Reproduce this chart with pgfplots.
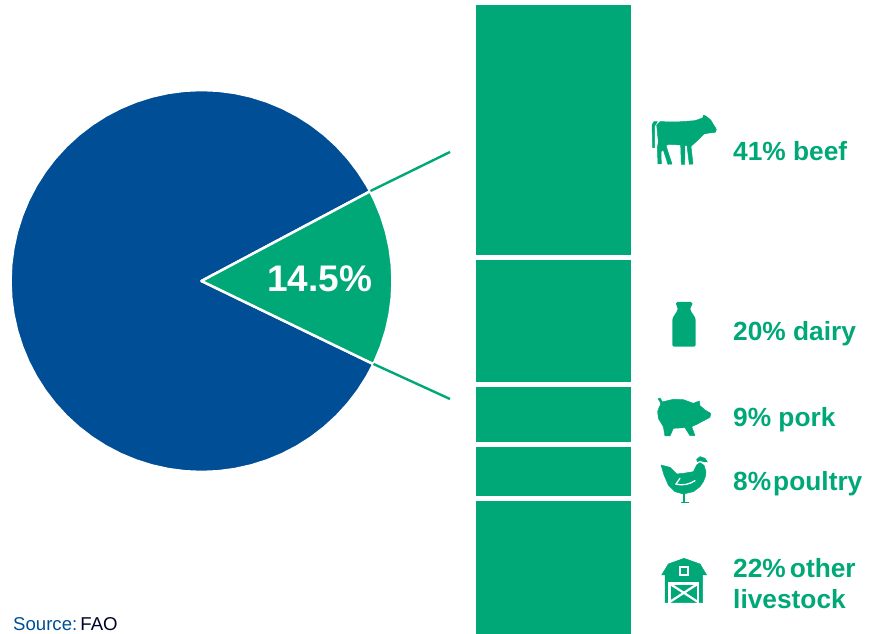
\documentclass[border=0pt]{standalone}
\usepackage{fontspec}
\setmainfont{Liberation Sans}
\usepackage{pgfplots}
\pgfplotsset{compat=1.18}
\definecolor{fgreen}{RGB}{0,168,120}
\definecolor{fblue}{RGB}{0,78,150}
% one unit = one pixel of the reference
\tikzset{icon/.style 2 args={shift={(#1pt,634pt-#2pt)},x=0.3333pt,y=-0.3333pt},
  ink/.style={fill=fgreen,draw=fgreen,line width=0.5pt,line join=round}}
\newcommand{\lab}[3]{\node[anchor=base west,inner sep=0pt,text=fgreen,font=\fontsize{26.3}{30}\selectfont\bfseries] at (#1pt,634pt-#2pt) {#3};}
\begin{document}
\begin{tikzpicture}
\path[use as bounding box] (0,0) rectangle (873pt,634pt);
% pie, centre at the origin, angle/radius
\begin{axis}[x=1pt,y=1pt,xmin=-201.5,xmax=671.5,ymin=-353,ymax=281,hide axis,clip=false]
\addplot[data cs=polar,fill=fblue,draw=white,line width=2.5pt,line join=round] coordinates {
(0,0) (28,191) (30,191) (35,191) (40,191) (45,191) (50,191) (55,191) (60,191) (65,191) (70,191)
(75,191) (80,191) (85,191) (90,191) (95,191) (100,191) (105,191) (110,191) (115,191) (120,191)
(125,191) (130,191) (135,191) (140,191) (145,191) (150,191) (155,191) (160,191) (165,191) (170,191)
(175,191) (180,191) (185,191) (190,191) (195,191) (200,191) (205,191) (210,191) (215,191) (220,191)
(225,191) (230,191) (235,191) (240,191) (245,191) (250,191) (255,191) (260,191) (265,191) (270,191)
(275,191) (280,191) (285,191) (290,191) (295,191) (300,191) (305,191) (310,191) (315,191) (320,191)
(325,191) (330,191) (334.2,191)} -- cycle;
\addplot[data cs=polar,fill=fgreen,draw=white,line width=2.5pt,line join=round] coordinates {
(0,0) (-25.8,191) (-25,191) (-20,191) (-15,191) (-10,191) (-5,191) (0,191) (5,191) (10,191)
(15,191) (20,191) (25,191) (28,191)} -- cycle;
\addplot[fgreen,line width=2.4pt] coordinates {(169,90) (248.5,129)};
\addplot[fgreen,line width=2.4pt] coordinates {(172,-83) (248.5,-118)};
\end{axis}
% stacked bar, share of its height; the white outline makes the gaps
\begin{axis}[at={(0pt,-2.5pt)},x=1pt,y=6.34pt,xmin=0,xmax=873,ymin=0,ymax=100,hide axis,
  ybar stacked,bar width=160pt]
\addplot[fill=fgreen,draw=white,line width=5pt] coordinates {(553.5,21.8)}; % other livestock
\addplot[fill=fgreen,draw=white,line width=5pt] coordinates {(553.5,8.5)};  % poultry
\addplot[fill=fgreen,draw=white,line width=5pt] coordinates {(553.5,9.5)};  % pork
\addplot[fill=fgreen,draw=white,line width=5pt] coordinates {(553.5,20.0)}; % dairy
\addplot[fill=fgreen,draw=white,line width=5pt] coordinates {(553.5,40.2)}; % beef
\end{axis}
% texts
\node[anchor=base west,inner sep=0pt,text=white,font=\fontsize{37}{40}\selectfont\bfseries] at (267pt,634pt-292pt) {14.5\%};
\lab{733}{161}{41\% beef}
\lab{733}{341}{20\% dairy}
\lab{733}{427}{9\% pork}
\lab{733}{491}{8\%\hspace{-0.2em} poultry}
\lab{733}{578}{22\%\hspace{-0.12em} other}
\lab{733}{609}{livestock}
\node[anchor=base west,inner sep=0pt,font=\fontsize{18.6}{20}\selectfont] at (13pt,634pt-631pt) {\textcolor{fblue}{Source:}\hspace{-0.2em} \textcolor{black!85!blue}{FAO}};
% icons
\begin{scope}[icon={640}{100}]
\path[ink] (38,143) -- (36,75) -- (42,65) -- (52,65) -- (44,78) -- (44,143) -- cycle;
\path[ink] (50,75) -- (60,65) -- (110,66) -- (165,62) -- (188,54) -- (191,45) -- (200,50) -- (212,60) -- (229,88) -- (226,97) -- (207,99) -- (192,102) -- (172,122) -- (155,137) -- (153,140) -- (159,192) -- (148,193) -- (141,137) -- (135,137) -- (134,193) -- (124,193) -- (122,135) -- (85,133) -- (78,137) -- (96,192) -- (84,193) -- (70,150) -- (63,155) -- (64,192) -- (54,192) -- (52,145) -- (55,125) -- cycle;
\end{scope}
\begin{scope}[icon={640}{290}]
\fill[fgreen,rounded corners=1.5pt] (108,36) -- (157,36) -- (157,47) -- (150,52) -- (152,62) -- (167,85) -- (167,170) -- (97,170) -- (97,85) -- (112,62) -- (114,52) -- (108,47) -- cycle;
\end{scope}
\begin{scope}[icon={640}{385}]
\path[ink] (58,65) -- (70,50) -- (100,43) -- (130,44) -- (160,55) -- (178,48) -- (180,62) -- (195,75) -- (212,85) -- (210,97) -- (195,105) -- (170,118) -- (155,125) -- (165,152) -- (150,152) -- (135,128) -- (100,130) -- (90,153) -- (75,153) -- (70,125) -- (55,100) -- (53,80) -- cycle;
\path[ink] (54,42) -- (60,39) -- (67,50) -- (68,60) -- (62,60) -- (60,50) -- cycle;
\end{scope}
\begin{scope}[icon={640}{450}]
\path[ink] (63,45) -- (90,52) -- (110,72) -- (130,70) -- (160,65) -- (170,45) -- (180,38) -- (192,46) -- (198,65) -- (196,80) -- (190,95) -- (180,110) -- (160,125) -- (130,132) -- (105,125) -- (85,105) -- (72,75) -- cycle;
\path[ink] (170,28) -- (180,20) -- (195,25) -- (202,36) -- (195,36) -- (180,32) -- (172,35) -- cycle;
\draw[white,line width=1.3pt,line cap=round] (120,85) -- (108,102) .. controls (130,108) and (150,102) .. (165,92);
\fill[fgreen] (128,132) rectangle (136,155);
\fill[fgreen] (122,155) rectangle (148,160);
\end{scope}
\begin{scope}[icon={640}{550}]
\path[ink] (65,75) -- (85,42) -- (132,25) -- (180,42) -- (200,75) -- (188,75) -- (188,158) -- (75,158) -- (75,75) -- cycle;
\draw[white,line width=2.2pt] (120,50) rectangle (144,76);
\draw[white,line width=2.6pt] (89,160) -- (89,101) -- (174,101) -- (174,160);
\draw[white,line width=2.2pt] (89,101) -- (174,156) (174,101) -- (89,156);
\end{scope}
\end{tikzpicture}
\end{document}
